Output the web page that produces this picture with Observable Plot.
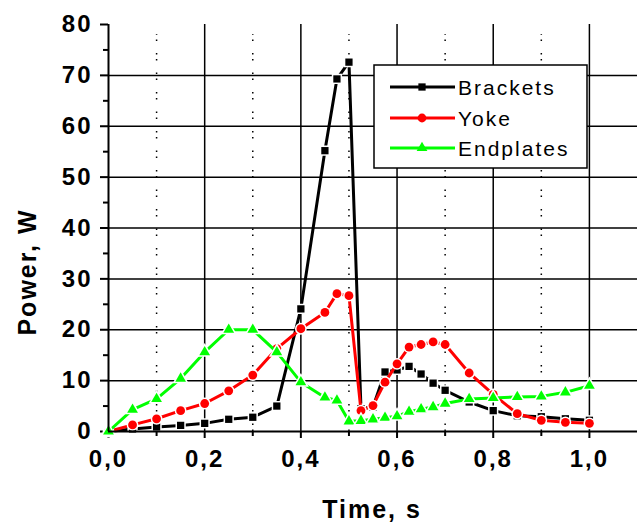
<!DOCTYPE html>
<html><head><meta charset="utf-8">
<script src="https://cdn.jsdelivr.net/npm/d3@7"></script>
<script src="https://cdn.jsdelivr.net/npm/@observablehq/plot@0.6"></script>
<style>
body{margin:0;background:#fff;}
#chart svg{background:#fff;}
#chart svg text{font-family:"Liberation Sans",Arial,sans-serif;}
g[aria-label="x-axis tick label"] text, g[aria-label="y-axis tick label"] text{letter-spacing:2px;}
</style></head><body><div id="chart"></div>
<script>
const seriesNames = ["Brackets", "Yoke", "Endplates"];
const seriesColors = ["#000000", "#ff0000", "#00ff00"];
const seriesSymbols = ["square", "circle", "triangle"];
const seriesRadius = [4.1, 4.4, 4.0];

const time = [0, 0.05, 0.1, 0.15, 0.2, 0.25, 0.3, 0.35, 0.4, 0.45, 0.475, 0.5, 0.525, 0.55, 0.575, 0.6, 0.625, 0.65, 0.675, 0.7, 0.75, 0.8, 0.85, 0.9, 0.95, 1.0];
const brackets = [0, 0.5, 0.9, 1.2, 1.6, 2.4, 2.8, 5.0, 24.1, 55.2, 69.3, 72.6, 4.5, 4.8, 11.7, 12.1, 12.8, 11.3, 9.5, 8.1, 5.8, 4.1, 3.1, 2.9, 2.5, 2.2];
const yoke = [0, 1.3, 2.5, 4.1, 5.5, 8.0, 11.1, 16.3, 20.2, 23.4, 27.1, 26.7, 4.1, 5.1, 9.7, 13.3, 16.6, 17.1, 17.6, 17.1, 11.5, 7.3, 3.5, 2.2, 1.8, 1.6];
const endplates = [0, 4.3, 6.4, 10.4, 15.6, 20.0, 20.0, 15.6, 9.7, 6.7, 6.1, 2.0, 2.1, 2.4, 2.7, 3.0, 3.9, 4.4, 4.8, 5.5, 6.4, 6.6, 6.8, 6.9, 7.7, 9.0];
const seriesValues = [brackets, yoke, endplates];

const xTicks = [0, 0.2, 0.4, 0.6, 0.8, 1.0];
const xMinorTicks = [0.1, 0.3, 0.5, 0.7, 0.9];
const yTicks = [0, 10, 20, 30, 40, 50, 60, 70, 80];
const yMinorTicks = [5, 15, 25, 35, 45, 55, 65, 75];
const xGrid = [0.2, 0.4, 0.6, 0.8, 1.0];
const yGrid = [10, 20, 30, 40, 50, 60, 70];
const xLabel = "Time, s";
const yLabel = "Power, W";

const rows = seriesNames.map((name, i) => time.map((t, j) => ({series: name, t, p: seriesValues[i][j]})));

const seriesMarks = seriesNames.flatMap((name, i) => [
  Plot.line(rows[i], {x: "t", y: "p", stroke: seriesColors[i], strokeWidth: 3}),
  Plot.dot(rows[i], {x: "t", y: "p", fill: seriesColors[i], symbol: seriesSymbols[i], r: seriesRadius[i], stroke: "white", strokeWidth: 3, paintOrder: "stroke"})
]);

const fmt = d => d3.format(".1f")(d).replace(".", ",");

const chart = Plot.plot({
  width: 639, height: 527,
  marginLeft: 108, marginRight: 2, marginTop: 24, marginBottom: 96,
  x: {domain: [0, 1.1]},
  y: {domain: [0, 80]},
  style: {background: "white", color: "black"},
  marks: [
    Plot.ruleY(yGrid, {stroke: "black", strokeWidth: 1.5}),
    Plot.ruleX(xGrid, {y1: 0, y2: 80, stroke: "black", strokeWidth: 1.5}),
    Plot.ruleX(xMinorTicks, {y1: 0, y2: 78, stroke: "black", strokeWidth: 1.5, strokeDasharray: "1.5,4.5,1.5,12"}),
    Plot.axisX(xTicks, {tickSize: 7, tickPadding: 11, tickFormat: fmt, fontSize: 24, fontWeight: "bold", label: null, strokeWidth: 2}),
    Plot.axisX(xMinorTicks, {tickSize: 5, fill: "none", label: null, strokeWidth: 2}),
    Plot.axisY(yTicks, {tickSize: 8, tickPadding: 8, fontSize: 24, fontWeight: "bold", label: null, strokeWidth: 2}),
    Plot.axisY(yMinorTicks, {tickSize: 5, fill: "none", label: null, strokeWidth: 2}),
    ...seriesMarks,
    Plot.ruleX([0], {stroke: "black", strokeWidth: 2}),
    Plot.ruleY([0], {stroke: "black", strokeWidth: 2})
  ]
});

document.getElementById("chart").appendChild(chart);

const svg = d3.select(chart);
// axis titles
svg.append("text")
  .attr("transform", "translate(27,272) rotate(-90)")
  .attr("text-anchor", "middle").attr("dominant-baseline", "central")
  .attr("font-size", 25).attr("font-weight", "bold").style("letter-spacing", "2px")
  .attr("fill", "black").text(yLabel);
svg.append("text")
  .attr("x", 372).attr("y", 518)
  .attr("text-anchor", "middle")
  .attr("font-size", 25).attr("font-weight", "bold").style("letter-spacing", "2px")
  .attr("fill", "black").text(xLabel);

// legend
const lg = svg.append("g").attr("aria-label", "legend");
lg.append("rect").attr("x", 374).attr("y", 65).attr("width", 213).attr("height", 103)
  .attr("fill", "white").attr("stroke", "black").attr("stroke-width", 1.5);
const rowY = [87, 118, 148];
seriesNames.forEach((name, i) => {
  lg.append("line").attr("x1", 390).attr("x2", 455).attr("y1", rowY[i]).attr("y2", rowY[i])
    .attr("stroke", seriesColors[i]).attr("stroke-width", 3);
  const sym = {square: d3.symbolSquare, circle: d3.symbolCircle, triangle: d3.symbolTriangle}[seriesSymbols[i]];
  lg.append("path").attr("d", d3.symbol(sym, seriesRadius[i] * seriesRadius[i] * Math.PI)())
    .attr("transform", `translate(422,${rowY[i]})`).attr("fill", seriesColors[i]);
  lg.append("text").attr("x", 458).attr("y", rowY[i]).attr("dominant-baseline", "central")
    .attr("text-anchor", "start")
    .attr("font-size", 21).style("letter-spacing", "2px").attr("fill", "black").text(name);
});
</script></body></html>
